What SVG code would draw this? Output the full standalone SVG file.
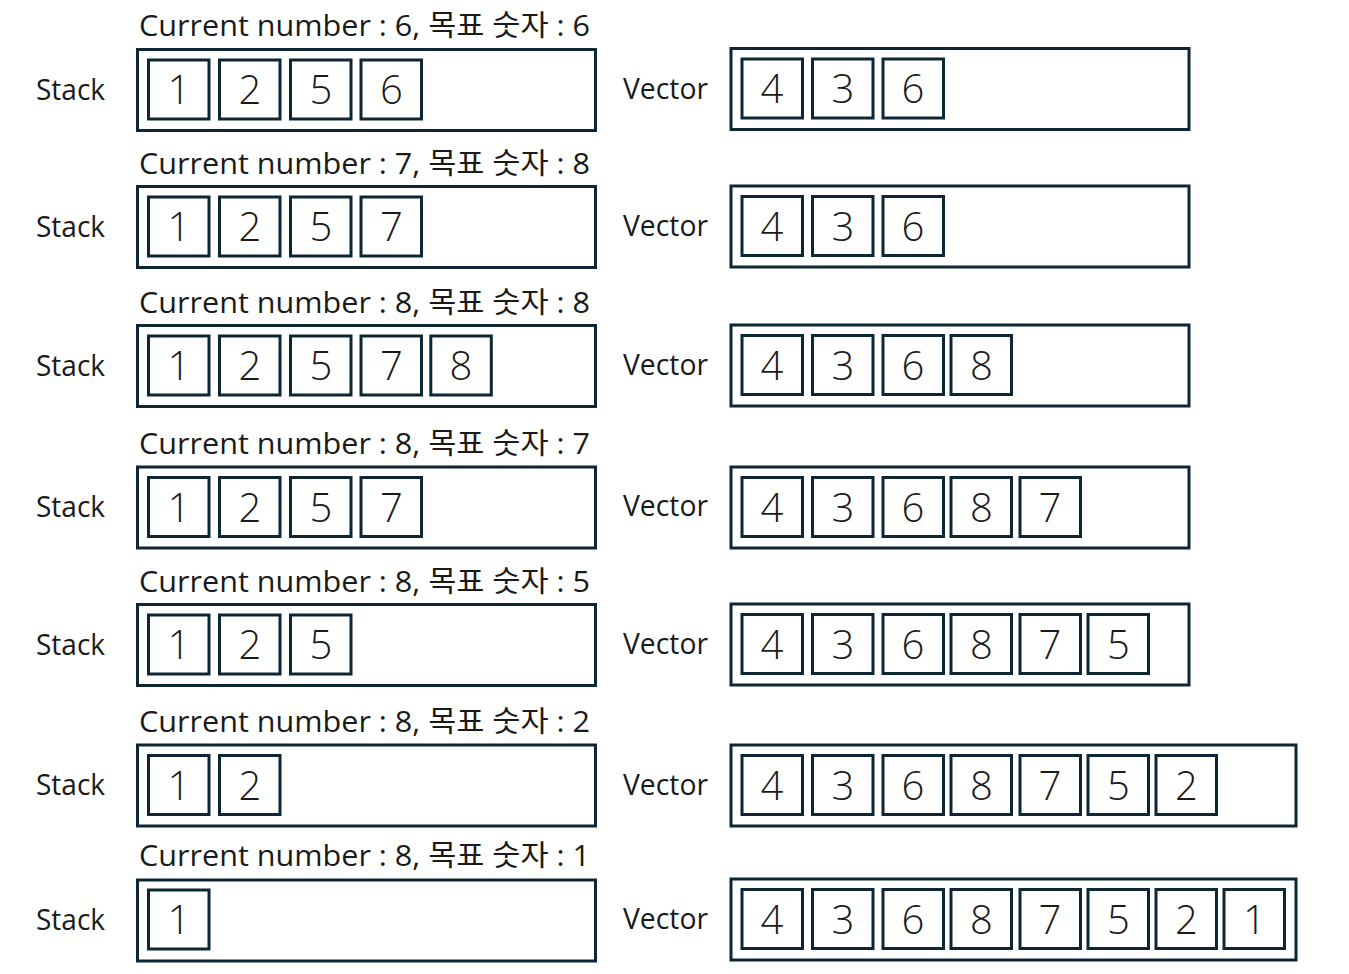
<svg xmlns="http://www.w3.org/2000/svg" width="1349" height="974" viewBox="0 0 1349 974">
<style>
.bg{fill:#ffffff}
.outer{fill:none;stroke:#0c2634;stroke-width:3}
.cell{fill:none;stroke:#0c2634;stroke-width:3}
.title{font-family:"Open Sans","Noto Sans CJK KR",sans-serif;font-size:29px;fill:#1a1a1a}
.label{font-family:"Open Sans","Noto Sans CJK KR",sans-serif;font-size:29px;fill:#1a1a1a}
.digit{font-family:"Open Sans","Noto Sans CJK KR",sans-serif;font-size:40px;font-weight:300;fill:#1a1a1a;text-anchor:middle}
</style>
<rect class="bg" x="0" y="0" width="1349" height="974"/>
<g id="connectors"></g>

<!-- Row 1 -->
<g id="row1">
<text class="title" x="139" y="36" textLength="451" lengthAdjust="spacingAndGlyphs">Current number : 6, 목표 숫자 : 6</text>
<g id="stack1">
<text class="label" x="36" y="100" textLength="69" lengthAdjust="spacingAndGlyphs">Stack</text>
<rect class="outer" x="137.5" y="49.5" width="458" height="81"/>
<rect class="cell" x="148.5" y="60" width="60.5" height="59"/><text class="digit" x="179" y="104">1</text>
<rect class="cell" x="219.5" y="60" width="60.5" height="59"/><text class="digit" x="250" y="104">2</text>
<rect class="cell" x="290.5" y="60" width="60.5" height="59"/><text class="digit" x="321" y="104">5</text>
<rect class="cell" x="361" y="60" width="60.5" height="59"/><text class="digit" x="391.5" y="104">6</text>
</g>
<g id="vector1">
<text class="label" x="623" y="99" textLength="85" lengthAdjust="spacingAndGlyphs">Vector</text>
<rect class="outer" x="731" y="48.5" width="458" height="81"/>
<rect class="cell" x="742" y="59" width="60.5" height="59"/><text class="digit" x="772" y="103">4</text>
<rect class="cell" x="812.5" y="59" width="60.5" height="59"/><text class="digit" x="843" y="103">3</text>
<rect class="cell" x="883" y="59" width="60.5" height="59"/><text class="digit" x="913" y="103">6</text>
</g>
</g>

<!-- Row 2 -->
<g id="row2">
<text class="title" x="139" y="174" textLength="451" lengthAdjust="spacingAndGlyphs">Current number : 7, 목표 숫자 : 8</text>
<g id="stack2">
<text class="label" x="36" y="237" textLength="69" lengthAdjust="spacingAndGlyphs">Stack</text>
<rect class="outer" x="137.5" y="186.5" width="458" height="81"/>
<rect class="cell" x="148.5" y="197" width="60.5" height="59"/><text class="digit" x="179" y="241">1</text>
<rect class="cell" x="219.5" y="197" width="60.5" height="59"/><text class="digit" x="250" y="241">2</text>
<rect class="cell" x="290.5" y="197" width="60.5" height="59"/><text class="digit" x="321" y="241">5</text>
<rect class="cell" x="361" y="197" width="60.5" height="59"/><text class="digit" x="391.5" y="241">7</text>
</g>
<g id="vector2">
<text class="label" x="623" y="236" textLength="85" lengthAdjust="spacingAndGlyphs">Vector</text>
<rect class="outer" x="731" y="186" width="458" height="81"/>
<rect class="cell" x="742" y="196.5" width="60.5" height="59"/><text class="digit" x="772" y="240.5">4</text>
<rect class="cell" x="812.5" y="196.5" width="60.5" height="59"/><text class="digit" x="843" y="240.5">3</text>
<rect class="cell" x="883" y="196.5" width="60.5" height="59"/><text class="digit" x="913" y="240.5">6</text>
</g>
</g>

<!-- Row 3 -->
<g id="row3">
<text class="title" x="139" y="313" textLength="451" lengthAdjust="spacingAndGlyphs">Current number : 8, 목표 숫자 : 8</text>
<g id="stack3">
<text class="label" x="36" y="376" textLength="69" lengthAdjust="spacingAndGlyphs">Stack</text>
<rect class="outer" x="137.5" y="325.5" width="458" height="81"/>
<rect class="cell" x="148.5" y="336" width="60.5" height="59"/><text class="digit" x="179" y="380">1</text>
<rect class="cell" x="219.5" y="336" width="60.5" height="59"/><text class="digit" x="250" y="380">2</text>
<rect class="cell" x="290.5" y="336" width="60.5" height="59"/><text class="digit" x="321" y="380">5</text>
<rect class="cell" x="361" y="336" width="60.5" height="59"/><text class="digit" x="391.5" y="380">7</text>
<rect class="cell" x="430.8" y="336" width="60.5" height="59"/><text class="digit" x="461" y="380">8</text>
</g>
<g id="vector3">
<text class="label" x="623" y="375" textLength="85" lengthAdjust="spacingAndGlyphs">Vector</text>
<rect class="outer" x="731" y="325" width="458" height="81"/>
<rect class="cell" x="742" y="335.5" width="60.5" height="59"/><text class="digit" x="772" y="379.5">4</text>
<rect class="cell" x="812.5" y="335.5" width="60.5" height="59"/><text class="digit" x="843" y="379.5">3</text>
<rect class="cell" x="883" y="335.5" width="60.5" height="59"/><text class="digit" x="913" y="379.5">6</text>
<rect class="cell" x="951" y="335.5" width="60.5" height="59"/><text class="digit" x="981.5" y="379.5">8</text>
</g>
</g>

<!-- Row 4 -->
<g id="row4">
<text class="title" x="139" y="454" textLength="451" lengthAdjust="spacingAndGlyphs">Current number : 8, 목표 숫자 : 7</text>
<g id="stack4">
<text class="label" x="36" y="517" textLength="69" lengthAdjust="spacingAndGlyphs">Stack</text>
<rect class="outer" x="137.5" y="467" width="458" height="81"/>
<rect class="cell" x="148.5" y="477.5" width="60.5" height="59"/><text class="digit" x="179" y="521.5">1</text>
<rect class="cell" x="219.5" y="477.5" width="60.5" height="59"/><text class="digit" x="250" y="521.5">2</text>
<rect class="cell" x="290.5" y="477.5" width="60.5" height="59"/><text class="digit" x="321" y="521.5">5</text>
<rect class="cell" x="361" y="477.5" width="60.5" height="59"/><text class="digit" x="391.5" y="521.5">7</text>
</g>
<g id="vector4">
<text class="label" x="623" y="516" textLength="85" lengthAdjust="spacingAndGlyphs">Vector</text>
<rect class="outer" x="731" y="467" width="458" height="81"/>
<rect class="cell" x="742" y="477.5" width="60.5" height="59"/><text class="digit" x="772" y="521.5">4</text>
<rect class="cell" x="812.5" y="477.5" width="60.5" height="59"/><text class="digit" x="843" y="521.5">3</text>
<rect class="cell" x="883" y="477.5" width="60.5" height="59"/><text class="digit" x="913" y="521.5">6</text>
<rect class="cell" x="951" y="477.5" width="60.5" height="59"/><text class="digit" x="981.5" y="521.5">8</text>
<rect class="cell" x="1020" y="477.5" width="60.5" height="59"/><text class="digit" x="1050" y="521.5">7</text>
</g>
</g>

<!-- Row 5 -->
<g id="row5">
<text class="title" x="139" y="592" textLength="451" lengthAdjust="spacingAndGlyphs">Current number : 8, 목표 숫자 : 5</text>
<g id="stack5">
<text class="label" x="36" y="655" textLength="69" lengthAdjust="spacingAndGlyphs">Stack</text>
<rect class="outer" x="137.5" y="604.5" width="458" height="81"/>
<rect class="cell" x="148.5" y="615" width="60.5" height="59"/><text class="digit" x="179" y="659">1</text>
<rect class="cell" x="219.5" y="615" width="60.5" height="59"/><text class="digit" x="250" y="659">2</text>
<rect class="cell" x="290.5" y="615" width="60.5" height="59"/><text class="digit" x="321" y="659">5</text>
</g>
<g id="vector5">
<text class="label" x="623" y="654" textLength="85" lengthAdjust="spacingAndGlyphs">Vector</text>
<rect class="outer" x="731" y="604" width="458" height="81"/>
<rect class="cell" x="742" y="614.5" width="60.5" height="59"/><text class="digit" x="772" y="658.5">4</text>
<rect class="cell" x="812.5" y="614.5" width="60.5" height="59"/><text class="digit" x="843" y="658.5">3</text>
<rect class="cell" x="883" y="614.5" width="60.5" height="59"/><text class="digit" x="913" y="658.5">6</text>
<rect class="cell" x="951" y="614.5" width="60.5" height="59"/><text class="digit" x="981.5" y="658.5">8</text>
<rect class="cell" x="1020" y="614.5" width="60.5" height="59"/><text class="digit" x="1050" y="658.5">7</text>
<rect class="cell" x="1088" y="614.5" width="60.5" height="59"/><text class="digit" x="1118.5" y="658.5">5</text>
</g>
</g>

<!-- Row 6 -->
<g id="row6">
<text class="title" x="139" y="732" textLength="451" lengthAdjust="spacingAndGlyphs">Current number : 8, 목표 숫자 : 2</text>
<g id="stack6">
<text class="label" x="36" y="795" textLength="69" lengthAdjust="spacingAndGlyphs">Stack</text>
<rect class="outer" x="137.5" y="745" width="458" height="81"/>
<rect class="cell" x="148.5" y="755.5" width="60.5" height="59"/><text class="digit" x="179" y="799.5">1</text>
<rect class="cell" x="219.5" y="755.5" width="60.5" height="59"/><text class="digit" x="250" y="799.5">2</text>
</g>
<g id="vector6">
<text class="label" x="623" y="795" textLength="85" lengthAdjust="spacingAndGlyphs">Vector</text>
<rect class="outer" x="731" y="745" width="565" height="81"/>
<rect class="cell" x="742" y="755.5" width="60.5" height="59"/><text class="digit" x="772" y="799.5">4</text>
<rect class="cell" x="812.5" y="755.5" width="60.5" height="59"/><text class="digit" x="843" y="799.5">3</text>
<rect class="cell" x="883" y="755.5" width="60.5" height="59"/><text class="digit" x="913" y="799.5">6</text>
<rect class="cell" x="951" y="755.5" width="60.5" height="59"/><text class="digit" x="981.5" y="799.5">8</text>
<rect class="cell" x="1020" y="755.5" width="60.5" height="59"/><text class="digit" x="1050" y="799.5">7</text>
<rect class="cell" x="1088" y="755.5" width="60.5" height="59"/><text class="digit" x="1118.5" y="799.5">5</text>
<rect class="cell" x="1156" y="755.5" width="60.5" height="59"/><text class="digit" x="1186.5" y="799.5">2</text>
</g>
</g>

<!-- Row 7 -->
<g id="row7">
<text class="title" x="139" y="866" textLength="451" lengthAdjust="spacingAndGlyphs">Current number : 8, 목표 숫자 : 1</text>
<g id="stack7">
<text class="label" x="36" y="930" textLength="69" lengthAdjust="spacingAndGlyphs">Stack</text>
<rect class="outer" x="137.5" y="880" width="458" height="81"/>
<rect class="cell" x="148.5" y="890" width="60.5" height="59"/><text class="digit" x="179" y="934">1</text>
</g>
<g id="vector7">
<text class="label" x="623" y="929" textLength="85" lengthAdjust="spacingAndGlyphs">Vector</text>
<rect class="outer" x="731" y="879" width="565" height="81"/>
<rect class="cell" x="742" y="889.5" width="60.5" height="59"/><text class="digit" x="772" y="933.5">4</text>
<rect class="cell" x="812.5" y="889.5" width="60.5" height="59"/><text class="digit" x="843" y="933.5">3</text>
<rect class="cell" x="883" y="889.5" width="60.5" height="59"/><text class="digit" x="913" y="933.5">6</text>
<rect class="cell" x="951" y="889.5" width="60.5" height="59"/><text class="digit" x="981.5" y="933.5">8</text>
<rect class="cell" x="1020" y="889.5" width="60.5" height="59"/><text class="digit" x="1050" y="933.5">7</text>
<rect class="cell" x="1088" y="889.5" width="60.5" height="59"/><text class="digit" x="1118.5" y="933.5">5</text>
<rect class="cell" x="1156" y="889.5" width="60.5" height="59"/><text class="digit" x="1186.5" y="933.5">2</text>
<rect class="cell" x="1224" y="889.5" width="60.5" height="59"/><text class="digit" x="1254.5" y="933.5">1</text>
</g>
</g>
</svg>
